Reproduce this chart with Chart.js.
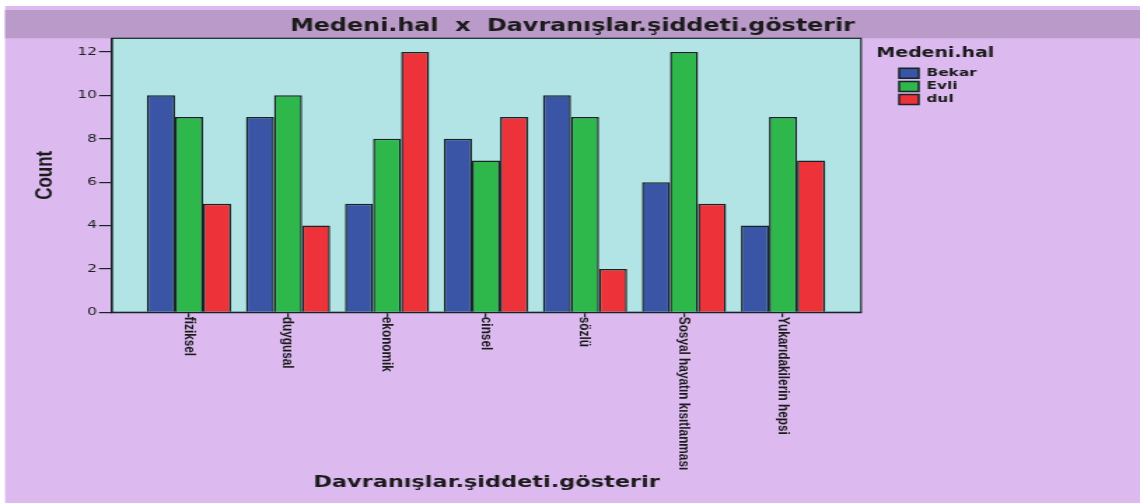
<!DOCTYPE html>
<html>
<head>
<meta charset="utf-8">
<script src="https://cdn.jsdelivr.net/npm/chart.js@4/dist/chart.umd.min.js"></script>
<style>
  html, body { margin: 0; padding: 0; background: #ffffff; }
</style>
</head>
<body>
<!-- the source picture is stretched sideways, so the canvas is drawn narrow and widened by css -->
<canvas id="chart" width="814" height="503" style="display:block;width:1140px;height:503px"></canvas>
<script>
var categories = ["fiziksel", "duygusal", "ekonomik", "cinsel", "sözlü", "Sosyal hayatın kısıtlanması", "Yukarıdakilerin hepsi"];
var bekar = [10, 9, 5, 8, 10, 6, 4];
var evli = [9, 10, 8, 7, 9, 12, 9];
var dul = [5, 4, 12, 9, 2, 5, 7];
var yTicks = [0, 2, 4, 6, 8, 10, 12];

var ink = "#1b1b1b";
var edge = "#172424";

var toPoints = function( values ){
    return values.map(function( v, i ){ return { x: i, y: v }; });
};

var backdrop = {
    id: "backdrop",
    beforeDraw: function( chart ){
        var ctx = chart.ctx, a = chart.chartArea;
        ctx.save();
        ctx.fillStyle = "#ffffff";
        ctx.fillRect(0, 0, chart.width, chart.height);
        ctx.fillStyle = "#dcbaf0";
        ctx.fillRect(3.6, 6, chart.width, chart.height);
        ctx.fillStyle = "#b99ac8";
        ctx.fillRect(3.6, 10, chart.width, a.top - 10);
        ctx.fillStyle = "#b2e4e6";
        ctx.fillRect(a.left, a.top, a.right - a.left, a.bottom - a.top);
        ctx.strokeStyle = edge;
        ctx.lineWidth = 1.2;
        ctx.strokeRect(a.left, a.top, a.right - a.left, a.bottom - a.top);
        ctx.restore();

        // legend title sits a little left of the legend boxes
        var legend = chart.legend;
        if ( legend && !legend.patched ){
            var drawTitle = legend.drawTitle;
            legend.drawTitle = function(){
                this.ctx.save();
                this.ctx.translate(-14, 0);
                drawTitle.call(this);
                this.ctx.restore();
            };
            legend.draw = function(){ this._draw(); };
            legend.patched = true;
        }
    }
};

// category names run downwards under the axis
var verticalLabels = {
    id: "verticalLabels",
    afterDraw: function( chart ){
        var ctx = chart.ctx, xs = chart.scales.x, top = chart.chartArea.bottom + 4.5;
        ctx.save();
        ctx.font = 'bold 11.8px "Liberation Sans", Arial, sans-serif';
        ctx.fillStyle = ink;
        ctx.textAlign = "left";
        ctx.textBaseline = "middle";
        categories.forEach(function( label, i ){
            ctx.save();
            ctx.translate(xs.getPixelForValue(i), top);
            ctx.rotate(Math.PI / 2);
            ctx.fillText(label, 0, 0);
            ctx.restore();
        });
        ctx.restore();
    }
};

var ctx = document.getElementById("chart").getContext("2d");
var chart = new Chart(ctx, {
    type: "bar",
    data: {
        datasets: [
            { label: "Bekar", data: toPoints(bekar), backgroundColor: "#3a55a5" },
            { label: "Evli", data: toPoints(evli), backgroundColor: "#2eb84b" },
            { label: "dul", data: toPoints(dul), backgroundColor: "#ee3239" }
        ]
    },
    options: {
        responsive: false,
        devicePixelRatio: 1,
        animation: false,
        layout: { padding: { left: 3.6, top: 10, right: 0, bottom: 0 } },
        datasets: {
            bar: {
                categoryPercentage: 0.85,
                barPercentage: 1,
                borderColor: edge,
                borderWidth: 1.5
            }
        },
        plugins: {
            tooltip: { enabled: false },
            title: {
                display: true,
                text: "Medeni.hal  x  Davranışlar.şiddeti.gösterir",
                color: ink,
                font: { family: "DejaVu Sans", weight: "bold", size: 17 },
                padding: { top: 6, bottom: 1.9 }
            },
            legend: {
                position: "right",
                align: "start",
                fullSize: false,
                title: {
                    display: true,
                    text: "Medeni.hal",
                    position: "start",
                    color: ink,
                    font: { family: "DejaVu Sans", weight: "bold", size: 13.5 },
                    padding: { top: 8.6, bottom: 2.4 }
                },
                labels: {
                    boxWidth: 14,
                    boxHeight: 10,
                    padding: 2.2,
                    color: ink,
                    font: { family: "DejaVu Sans", weight: "bold", size: 11 }
                }
            }
        },
        scales: {
            x: {
                type: "linear",
                offset: false,
                min: -0.778,
                max: 6.788,
                afterBuildTicks: function( scale ){
                    scale.ticks = categories.map(function( c, i ){ return { value: i }; });
                },
                afterFit: function( scale ){ scale.height = 190.7; },
                ticks: { display: false },
                grid: { offset: false, drawOnChartArea: false, drawTicks: true, tickLength: 5, color: edge, lineWidth: 1.2 },
                border: { display: true, color: edge, width: 1.2 },
                title: {
                    display: true,
                    text: "Davranışlar.şiddeti.gösterir",
                    color: ink,
                    font: { family: "DejaVu Sans", weight: "bold", size: 16 },
                    padding: { top: 0, bottom: 10.4 }
                }
            },
            y: {
                min: 0,
                max: 12.63,
                afterBuildTicks: function( scale ){
                    scale.ticks = yTicks.map(function( v ){ return { value: v }; });
                },
                afterFit: function( scale ){ scale.width = 76.4; },
                ticks: { color: "#222222", padding: 1.4, font: { family: "DejaVu Sans", size: 11 } },
                grid: { drawOnChartArea: false, drawTicks: true, tickLength: 9.3, color: edge, lineWidth: 1.2 },
                border: { display: true, color: edge, width: 1.2 },
                title: {
                    display: true,
                    text: "Count",
                    color: ink,
                    font: { family: "Liberation Sans", weight: "bold", size: 17 },
                    padding: { top: 18.1, bottom: 0 }
                }
            },
            // empty space between plot and legend
            gap: {
                type: "linear",
                position: "right",
                weight: 0,
                grid: { display: false },
                border: { display: false },
                ticks: { display: false },
                afterFit: function( scale ){ scale.width = 25; }
            },
            // empty space right of the legend
            margin: {
                type: "linear",
                position: "right",
                weight: 2000,
                grid: { display: false },
                border: { display: false },
                ticks: { display: false },
                afterFit: function( scale ){ scale.width = 106.5; }
            }
        }
    },
    plugins: [backdrop, verticalLabels]
});
</script>
</body>
</html>
